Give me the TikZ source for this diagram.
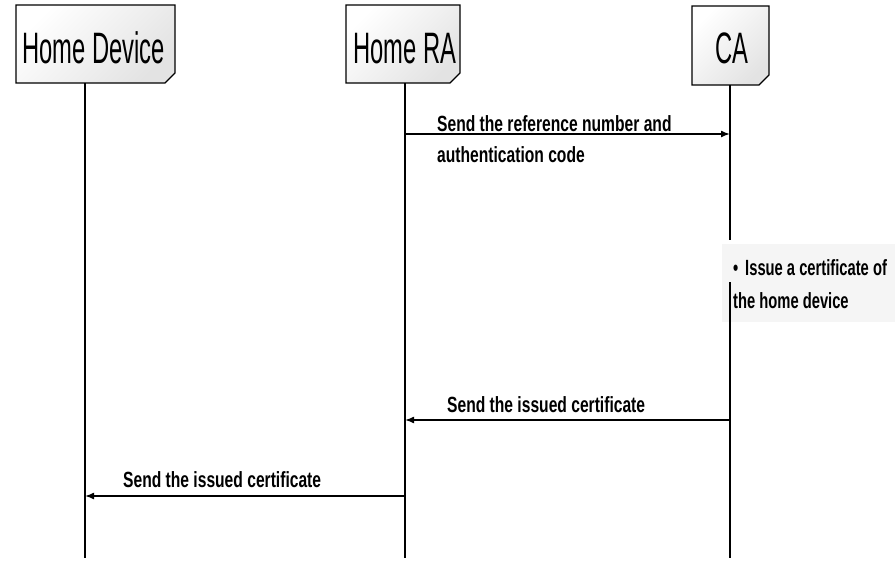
\documentclass[tikz,border=0pt]{standalone}
\usepackage{fontspec}
\newfontfamily\titlefont[FakeStretch=0.54]{Liberation Sans}
\newfontfamily\labelfont[FakeStretch=0.71]{Liberation Sans}
\newfontfamily\notefont[FakeStretch=0.67]{Liberation Sans}
\usetikzlibrary{arrows.meta}
\tikzset{
  hbox/.style={draw=black, line width=1.4pt, top color=white, bottom color=gray!22, shading angle=45},
  htitle/.style={font=\titlefont\fontsize{44}{44}\selectfont, inner sep=0pt, anchor=base west},
  lbl/.style={font=\labelfont\bfseries\fontsize{22}{22}\selectfont, inner sep=0pt, anchor=base west},
  notelbl/.style={font=\notefont\bfseries\fontsize{22}{22}\selectfont, inner sep=0pt, anchor=base west},
  life/.style={line width=2pt},
  msg/.style={line width=1.5pt, -{Latex[length=9pt,width=7pt]}},
  notebg/.style={fill=gray!8, draw=none},
}
\begin{document}
\begin{tikzpicture}[x=1pt,y=-1pt]
\useasboundingbox (0,0) rectangle (895,562);
% header boxes
\draw[hbox] (16,5) -- (175,5) -- (175,73) -- (165,83) -- (16,83) -- cycle;
\draw[hbox] (346,5) -- (460,5) -- (460,73) -- (450,83) -- (346,83) -- cycle;
\draw[hbox] (692,6) -- (769,6) -- (769,75) -- (759,85) -- (692,85) -- cycle;
\node[htitle] (devt) at (22,63) {Home Device};
\node[htitle] (rat) at (353,63) {Home RA};
\node[htitle] (cat) at (715,63) {CA};
% note background
\fill[notebg] (722,244) rectangle (895,322);
% lifelines
\coordinate (devtop) at (85,83);
\coordinate (devbot) at (85,558);
\coordinate (ratop) at (405,83);
\coordinate (rabot) at (405,558);
\coordinate (catop) at (730,85);
\coordinate (cagap1) at (730,240);
\coordinate (cagap2) at (730,282);
\coordinate (cabot) at (730,558);
\draw[life] (devtop) -- (devbot);
\draw[life] (ratop) -- (rabot);
\draw[life] (catop) -- (cagap1);
\draw[life] (cagap2) -- (cabot);
% messages
\coordinate (m1s) at (405,134);
\coordinate (m1e) at (730,134);
\coordinate (m2s) at (730,420);
\coordinate (m2e) at (405,420);
\coordinate (m3s) at (405,496);
\coordinate (m3e) at (85,496);
\draw[msg] (m1s) -- (m1e);
\draw[msg] (m2s) -- (m2e);
\draw[msg] (m3s) -- (m3e);
% labels
\node[lbl] (l1a) at (437,131) {Send the reference number and};
\node[lbl] (l1b) at (437,162) {authentication code};
\node[lbl] (l2) at (447,412) {Send the issued certificate};
\node[lbl] (l3) at (123,487) {Send the issued certificate};
\node[notelbl] (nb) at (733,275) {•};
\node[notelbl] (n1) at (745,275) {Issue a certificate of};
\node[notelbl] (n2) at (733,308) {the home device};
\end{tikzpicture}
\end{document}
